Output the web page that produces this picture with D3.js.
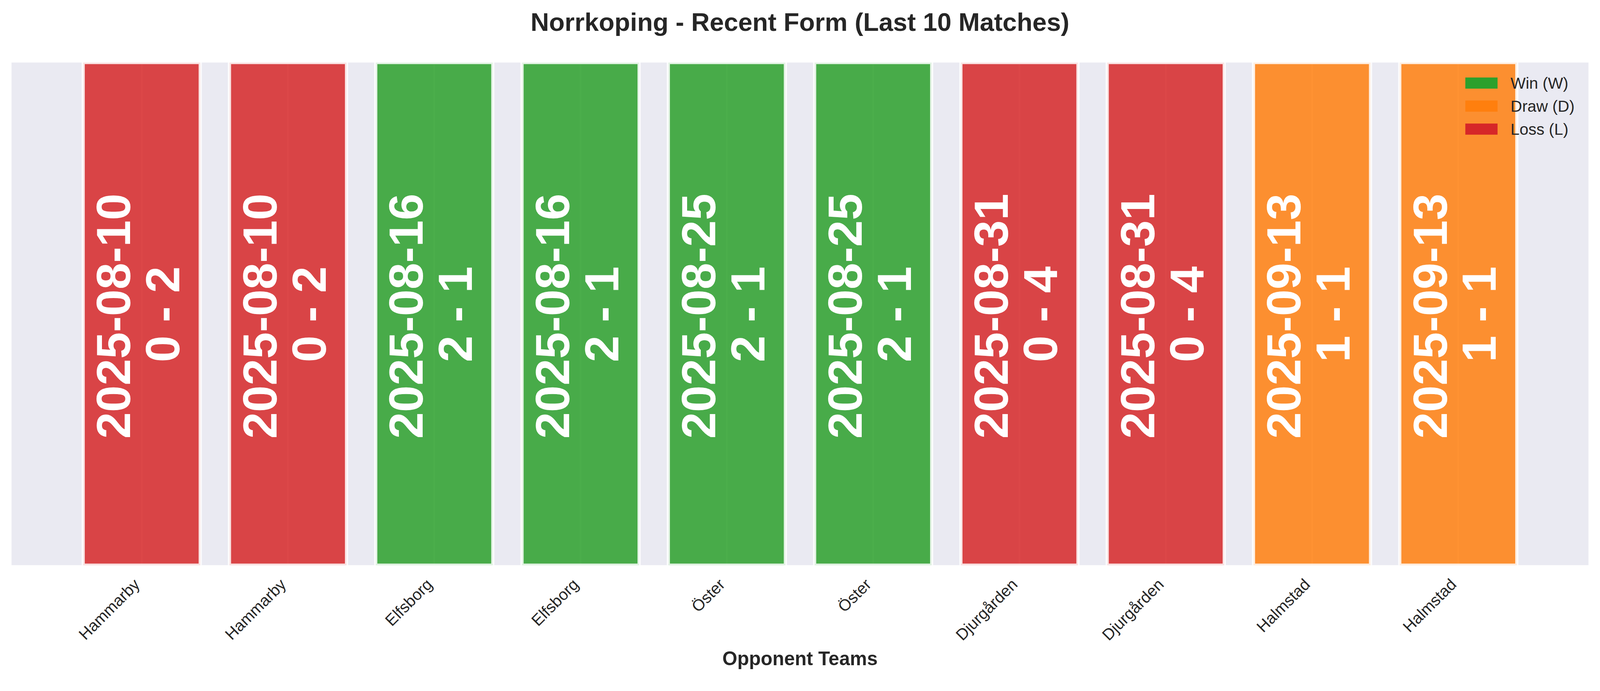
<!DOCTYPE html>
<html>
<head>
<meta charset="utf-8">
<script src="https://cdn.jsdelivr.net/npm/d3@7"></script>
<style>
  html, body { margin: 0; padding: 0; overflow: hidden; background: #ffffff; }
  #chart svg { display: block; width: 100vw; height: 100vh; }
  text { font-family: "Liberation Sans", Arial, Helvetica, sans-serif; }
</style>
</head>
<body>
<div id="chart"></div>
<script>
// Data
var opponents = ['Hammarby', 'Hammarby', 'Elfsborg', 'Elfsborg', 'Öster', 'Öster',
                 'Djurgården', 'Djurgården', 'Halmstad', 'Halmstad'];
var dates     = ['2025-08-10', '2025-08-10', '2025-08-16', '2025-08-16', '2025-08-25',
                 '2025-08-25', '2025-08-31', '2025-08-31', '2025-09-13', '2025-09-13'];
var scores    = ['0 - 2', '0 - 2', '2 - 1', '2 - 1', '2 - 1', '2 - 1', '0 - 4', '0 - 4', '1 - 1', '1 - 1'];
var results   = ['L', 'L', 'W', 'W', 'W', 'W', 'L', 'L', 'D', 'D'];
var bar_height = [1, 1, 1, 1, 1, 1, 1, 1, 1, 1];

var legend_keys   = ['W', 'D', 'L'];
var legend_labels = ['Win (W)', 'Draw (D)', 'Loss (L)'];

var chart_width  = 4170;
var chart_height = 1769;
var plot = { left: 30, right: 4140, top: 163, bottom: 1473 };
var text_color = '#262626';

var color = d3.scaleOrdinal()
    .domain(['W', 'D', 'L'])
    .range(['#2ca02c', '#ff7f0e', '#d62728']);

// scales (matplotlib style margins round 0.8 wide bars)
var x = d3.scaleLinear()
    .domain([-0.89, opponents.length - 1 + 0.89])
    .range([plot.left, plot.right]);
var y = d3.scaleLinear()
    .domain([0, 1])
    .range([plot.bottom, plot.top]);
var bar_w = 0.8;

var svg = d3.select('#chart')
    .append('svg')
    .attr('viewBox', '0 0 ' + chart_width + ' ' + chart_height)
    .attr('preserveAspectRatio', 'xMinYMin meet');

svg.append('rect')
    .attr('width', chart_width)
    .attr('height', chart_height)
    .attr('fill', '#ffffff');

svg.append('defs').append('clipPath')
    .attr('id', 'plot-clip')
    .append('rect')
    .attr('x', plot.left)
    .attr('y', plot.top)
    .attr('width', plot.right - plot.left)
    .attr('height', plot.bottom - plot.top);

// axes background
svg.append('rect')
    .attr('x', plot.left)
    .attr('y', plot.top)
    .attr('width', plot.right - plot.left)
    .attr('height', plot.bottom - plot.top)
    .attr('fill', '#eaeaf2');

// grid
var idx = d3.range(opponents.length);
svg.append('g')
    .selectAll('line')
    .data(idx)
    .enter()
    .append('line')
    .attr('x1', function(d){ return x(d); })
    .attr('x2', function(d){ return x(d); })
    .attr('y1', plot.top)
    .attr('y2', plot.bottom)
    .attr('stroke', '#ffffff')
    .attr('stroke-width', 4.2);

// bars
var bars = svg.append('g')
    .attr('clip-path', 'url(#plot-clip)');

bars.selectAll('rect')
    .data(idx)
    .enter()
    .append('rect')
    .attr('x', function(d){ return x(d - bar_w / 2); })
    .attr('width', function(d){ return x(d + bar_w / 2) - x(d - bar_w / 2); })
    .attr('y', function(d){ return y(bar_height[d]); })
    .attr('height', function(d){ return y(0) - y(bar_height[d]); })
    .attr('fill', function(d){ return color(results[d]); })
    .attr('fill-opacity', 0.85)
    .attr('stroke', '#ffffff')
    .attr('stroke-opacity', 0.85)
    .attr('stroke-width', 8.3);

// labels inside bars
var labels = svg.append('g')
    .selectAll('text')
    .data(idx)
    .enter()
    .append('text')
    .attr('transform', function(d){
        return 'translate(' + x(d) + ',' + y(bar_height[d] / 2) + ') rotate(-90)';
    })
    .attr('text-anchor', 'middle')
    .attr('fill', '#ffffff')
    .attr('font-weight', 'bold')
    .attr('font-size', 125);

labels.append('tspan')
    .attr('x', -6)
    .attr('y', -30)
    .text(function(d){ return dates[d]; });
labels.append('tspan')
    .attr('x', -1)
    .attr('y', 98)
    .text(function(d){ return scores[d]; });

// x axis
var xAxis = d3.axisBottom(x)
    .tickValues(idx)
    .tickSize(0)
    .tickFormat(function(d){ return opponents[d]; });

var gx = svg.append('g')
    .attr('transform', 'translate(0,' + plot.bottom + ')')
    .call(xAxis);
gx.select('.domain').remove();
gx.selectAll('text')
    .attr('font-size', 41.7)
    .attr('fill', text_color)
    .attr('text-anchor', 'end')
    .attr('dy', null)
    .attr('y', null)
    .attr('transform', 'translate(-3,53) rotate(-45)');

// axis label
svg.append('text')
    .attr('x', (plot.left + plot.right) / 2)
    .attr('y', 1734)
    .attr('text-anchor', 'middle')
    .attr('font-size', 50)
    .attr('font-weight', 'bold')
    .attr('fill', text_color)
    .text('Opponent Teams');

// title
svg.append('text')
    .attr('x', chart_width / 2)
    .attr('y', 80)
    .attr('text-anchor', 'middle')
    .attr('font-size', 66.7)
    .attr('font-weight', 'bold')
    .attr('fill', text_color)
    .text('Norrkoping - Recent Form (Last 10 Matches)');

// legend
var legend = svg.append('g')
    .attr('transform', 'translate(3819,202)')
    .selectAll('g')
    .data(legend_keys)
    .enter()
    .append('g')
    .attr('transform', function(d, i){ return 'translate(0,' + i * 60 + ')'; });

legend.append('rect')
    .attr('width', 84)
    .attr('height', 29)
    .attr('fill', function(d){ return color(d); });

legend.append('text')
    .attr('x', 118)
    .attr('y', 29)
    .attr('font-size', 41.7)
    .attr('fill', text_color)
    .text(function(d, i){ return legend_labels[i]; });
</script>
</body>
</html>
